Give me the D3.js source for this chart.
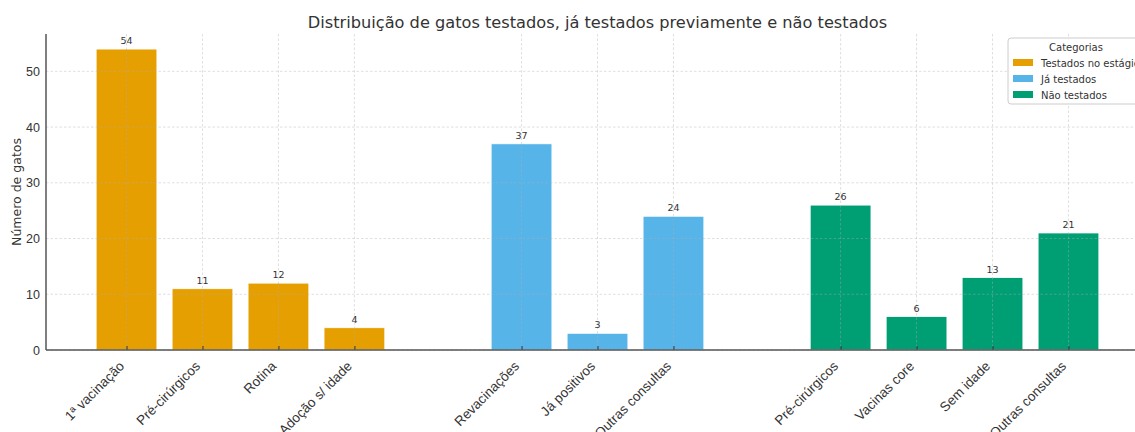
<!DOCTYPE html>
<html>
<head>
<meta charset="utf-8">
<script src="https://cdn.jsdelivr.net/npm/d3@7"></script>
<style>
  body { margin: 0; background: #fff; }
  svg { font-family: "DejaVu Sans", sans-serif; display: block; }
</style>
</head>
<body>
<div class="chart"></div>
<script>
// Data
var groupNames = ["Testados no estágio", "Já testados", "Não testados"];
var groupColors = ["#E69F00", "#56B4E9", "#009E73"];

var testadosLabels = ["1ª vacinação", "Pré-cirúrgicos", "Rotina", "Adoção s/ idade"];
var testadosValues = [54, 11, 12, 4];

var jaTestadosLabels = ["Revacinações", "Já positivos", "Outras consultas"];
var jaTestadosValues = [37, 3, 24];

var naoTestadosLabels = ["Pré-cirúrgicos", "Vacinas core", "Sem idade", "Outras consultas"];
var naoTestadosValues = [26, 6, 13, 21];

var yTicks = [0, 10, 20, 30, 40, 50];

// Width and height
var w = 1135;
var h = 432;
var margin = {top: 34, right: -14, bottom: 82, left: 46};

// build flat bar list, with a gap between groups
var groupGap = 1.2;
var bars = [];
[[testadosLabels, testadosValues], [jaTestadosLabels, jaTestadosValues], [naoTestadosLabels, naoTestadosValues]]
  .forEach(function(g, gi) {
    var start = bars.length + gi * groupGap;
    g[0].forEach(function(lab, i) {
      bars.push({label: lab, value: g[1][i], group: gi, pos: start + i});
    });
  });

var barWidth = 0.8;
var minX = d3.min(bars, function(d) { return d.pos; }) - barWidth / 2;
var maxX = d3.max(bars, function(d) { return d.pos; }) + barWidth / 2;
var padX = (maxX - minX) * 0.05;

var xScale = d3.scaleLinear()
  .domain([minX - padX, maxX + padX])
  .range([margin.left, w - margin.right]);

var yMax = d3.max(bars, function(d) { return d.value; }) * 1.05;
var yScale = d3.scaleLinear()
  .domain([0, yMax])
  .range([h - margin.bottom, margin.top]);

var svg = d3.select(".chart").append("svg")
  .attr("width", w)
  .attr("height", h);

// bars
svg.append("g").selectAll("rect")
  .data(bars)
  .enter()
  .append("rect")
  .attr("x", function(d) { return xScale(d.pos - barWidth / 2); })
  .attr("y", function(d) { return yScale(d.value); })
  .attr("width", function(d) { return xScale(barWidth) - xScale(0); })
  .attr("height", function(d) { return yScale(0) - yScale(d.value); })
  .style("fill", function(d) { return groupColors[d.group]; })
  .style("stroke", "#fff")
  .style("stroke-width", 0.8);

// grid (drawn over bars like the reference)
var grid = svg.append("g").attr("class", "grid");
grid.selectAll("line.h")
  .data(yTicks)
  .enter()
  .append("line")
  .attr("x1", margin.left)
  .attr("x2", w)
  .attr("y1", function(d) { return yScale(d); })
  .attr("y2", function(d) { return yScale(d); });
grid.selectAll("line.v")
  .data(bars)
  .enter()
  .append("line")
  .attr("x1", function(d) { return xScale(d.pos); })
  .attr("x2", function(d) { return xScale(d.pos); })
  .attr("y1", margin.top)
  .attr("y2", yScale(0));
grid.selectAll("line")
  .style("stroke", "#b0b0b0")
  .style("stroke-opacity", 0.5)
  .style("stroke-width", 0.8)
  .style("stroke-dasharray", "2.5,2");

// value labels
svg.append("g").selectAll("text")
  .data(bars)
  .enter()
  .append("text")
  .attr("x", function(d) { return xScale(d.pos); })
  .attr("y", function(d) { return yScale(d.value) - 5; })
  .attr("text-anchor", "middle")
  .style("font-size", "9.5px")
  .style("fill", "#333")
  .text(function(d) { return d.value; });

// axes
var xAxis = d3.axisBottom(xScale)
  .tickValues(bars.map(function(d) { return d.pos; }))
  .tickFormat(function(d, i) { return bars[i].label; })
  .tickSizeInner(-4)
  .tickSizeOuter(0);
var yAxis = d3.axisLeft(yScale).tickValues(yTicks).tickSizeInner(0).tickSizeOuter(0).tickPadding(6);

var gx = svg.append("g")
  .attr("transform", "translate(0," + yScale(0) + ")")
  .call(xAxis);
gx.select(".domain").remove();
gx.selectAll(".tick line").style("stroke", "#333").style("stroke-width", 1);
gx.selectAll(".tick text")
  .attr("text-anchor", "end")
  .attr("dy", null)
  .attr("y", 0)
  .attr("transform", "translate(-2,17) rotate(-45)")
  .style("font-size", "13.5px")
  .style("fill", "#333");

var gy = svg.append("g")
  .attr("transform", "translate(" + margin.left + ",0)")
  .call(yAxis);
gy.select(".domain").remove();
gy.selectAll(".tick text")
  .style("font-size", "12.5px")
  .style("fill", "#333");

// spines
svg.append("line")
  .attr("x1", margin.left).attr("x2", margin.left)
  .attr("y1", margin.top).attr("y2", yScale(0))
  .style("stroke", "#555").style("stroke-width", 1.5);
svg.append("line")
  .attr("x1", margin.left).attr("x2", w)
  .attr("y1", yScale(0)).attr("y2", yScale(0))
  .style("stroke", "#555").style("stroke-width", 1.5);

// title + y label
svg.append("text")
  .attr("x", (margin.left + xScale.range()[1]) / 2)
  .attr("y", 28)
  .attr("text-anchor", "middle")
  .style("font-size", "16.2px")
  .style("fill", "#333")
  .text("Distribuição de gatos testados, já testados previamente e não testados");

svg.append("text")
  .attr("transform", "translate(21," + ((margin.top + yScale(0)) / 2) + ") rotate(-90)")
  .attr("text-anchor", "middle")
  .style("font-size", "12.5px")
  .style("fill", "#333")
  .text("Número de gatos");

// legend
var legend = svg.append("g").attr("transform", "translate(1008,38)");
legend.append("rect")
  .attr("x", 0).attr("y", 0)
  .attr("width", 150).attr("height", 66)
  .attr("rx", 3)
  .style("fill", "#fff")
  .style("fill-opacity", 0.85)
  .style("stroke", "#ccc");
legend.append("text")
  .attr("x", 68).attr("y", 13)
  .attr("text-anchor", "middle")
  .style("font-size", "10px")
  .style("fill", "#333")
  .text("Categorias");
var items = legend.selectAll("g.item")
  .data(groupNames)
  .enter()
  .append("g")
  .attr("transform", function(d, i) { return "translate(0," + (25 + i * 16) + ")"; });
items.append("rect")
  .attr("x", 5).attr("y", -4)
  .attr("width", 20).attr("height", 7)
  .style("fill", function(d, i) { return groupColors[i]; });
items.append("text")
  .attr("x", 33).attr("y", 3.5)
  .style("font-size", "10px")
  .style("fill", "#333")
  .text(function(d) { return d; });
</script>
</body>
</html>
